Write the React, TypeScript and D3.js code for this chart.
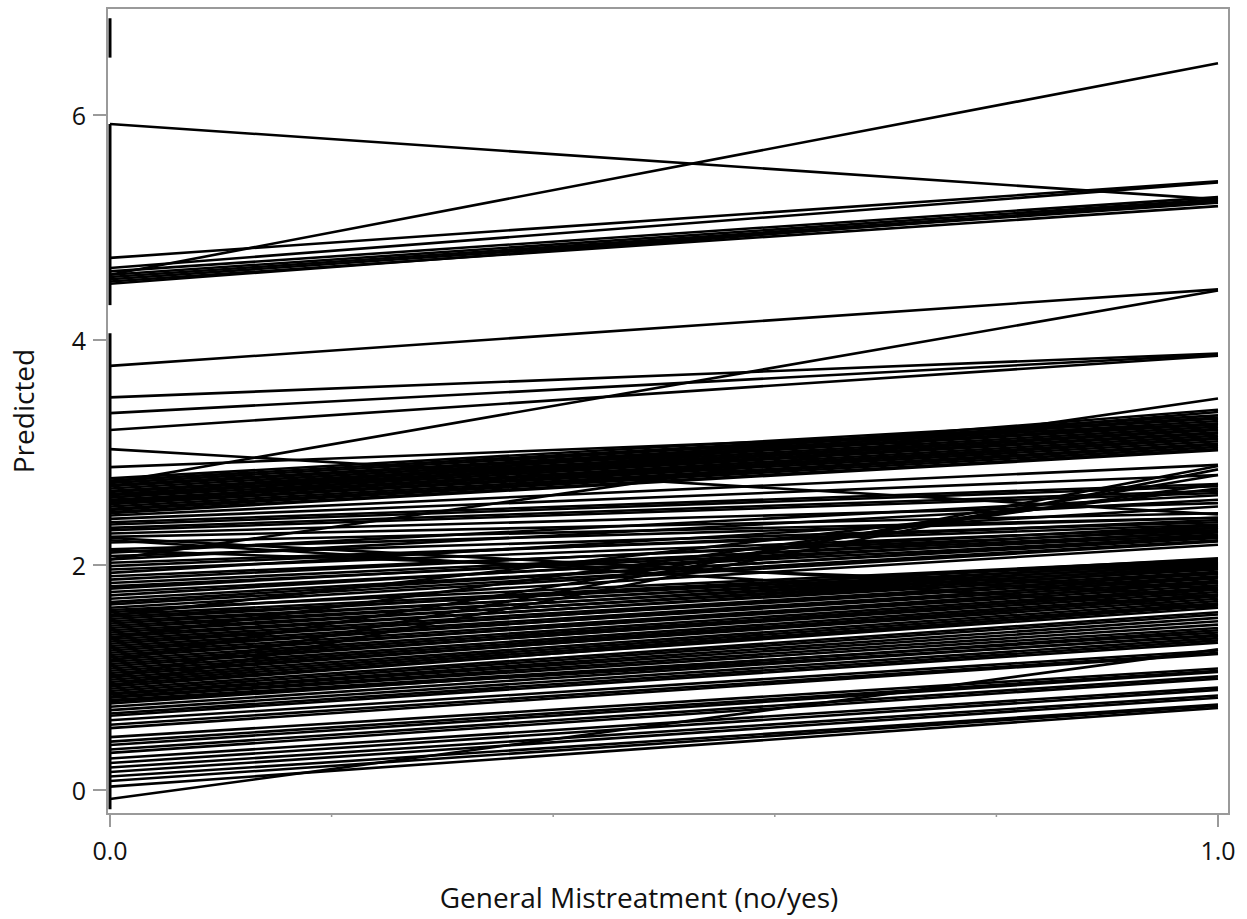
import * as d3 from 'd3';

// Predicted value for each subject at no (0) and yes (1) — [atNo, atYes]
const topGroup: [number, number][] = [
  [4.58, 6.46], [5.92, 5.25], [4.73, 5.41], [4.64, 5.40], [4.61, 5.27],
  [4.58, 5.25], [4.56, 5.23], [4.54, 5.22], [4.52, 5.19], [4.50, 5.24],
];

const upperGroup: [number, number][] = [
  [3.77, 4.45], [2.73, 4.44], [3.49, 3.88], [3.35, 3.87], [3.20, 3.86],
  [3.03, 2.45], [2.87, 3.25], [2.05, 3.48], [2.60, 3.38], [2.55, 3.36],
];

const bandGroup: [number, number][] = [
  [2.77, 3.33], [2.75, 3.31], [2.73, 3.30], [2.71, 3.28], [2.70, 3.26],
  [2.68, 3.25], [2.66, 3.23], [2.65, 3.21], [2.63, 3.20], [2.62, 3.18],
  [2.60, 3.17], [2.58, 3.15], [2.57, 3.13], [2.55, 3.12], [2.54, 3.10],
  [2.52, 3.08], [2.50, 3.07], [2.49, 3.05], [2.47, 3.03], [2.46, 3.02],
];

const crossGroup: [number, number][] = [
  [2.44, 2.89], [2.41, 2.80], [2.38, 2.72], [2.36, 2.70], [2.33, 2.66],
  [2.31, 2.64], [2.28, 2.55], [2.25, 2.46], [2.24, 1.72], [2.22, 1.62],
  [2.13, 1.80], [2.20, 2.42], [1.00, 2.88], [0.92, 2.85], [1.15, 2.80],
  [1.35, 2.72], [1.55, 2.68],
];

const denseGroup: [number, number][] = [
  [2.14, 2.42], [2.11, 2.62], [2.08, 2.38], [2.05, 2.58], [2.02, 2.36],
  [1.99, 2.40], [1.96, 2.33], [1.93, 2.52], [1.90, 2.31], [1.87, 2.35],
  [1.84, 2.29], [1.81, 2.27], [1.79, 2.33], [1.76, 2.25], [1.73, 2.30],
  [1.70, 2.24], [1.67, 2.26], [1.65, 2.22], [1.62, 2.21], [1.60, 2.05],
  [1.58, 2.18], [1.56, 2.04], [1.54, 2.02], [1.52, 2.06], [1.50, 2.00],
  [1.48, 2.03], [1.46, 1.98], [1.44, 2.01], [1.42, 1.96], [1.40, 1.99],
  [1.38, 1.94], [1.36, 1.97], [1.34, 1.92], [1.32, 1.90], [1.30, 1.93],
  [1.28, 1.88], [1.26, 1.86], [1.24, 1.89], [1.22, 1.84], [1.20, 1.82],
  [1.18, 1.85], [1.16, 1.80], [1.14, 1.78], [1.12, 1.76], [1.10, 1.79],
  [1.08, 1.74], [1.06, 1.72], [1.04, 1.70], [1.02, 1.73], [1.00, 1.68],
  [0.98, 1.66], [0.96, 1.64], [0.94, 1.62], [0.92, 1.65], [0.90, 1.58],
  [0.88, 1.56], [0.86, 1.53], [0.85, 1.50], [0.83, 1.47], [0.82, 1.44],
  [0.80, 1.40], [0.79, 1.37],
];

const lowerGroup: [number, number][] = [
  [0.77, 1.42], [0.74, 1.38], [0.71, 1.35], [0.68, 1.33], [0.66, 1.31],
  [0.62, 1.24], [0.58, 1.22], [0.55, 1.21], [0.47, 1.08], [0.43, 1.06],
  [0.40, 1.05], [0.36, 1.01], [0.33, 0.99], [0.28, 0.91], [0.24, 0.89],
  [0.20, 0.84], [0.16, 0.82], [0.12, 0.76], [0.08, 0.75], [0.03, 0.73],
  [-0.08, 1.25],
];

// vertical runs drawn at x = 0
const verticalAtNo: [number, number][] = [
  [6.86, 6.51], [5.92, 4.31], [4.06, -0.17],
];

const yTicks = [0, 2, 4, 6];
const xTicks = [0, 1];
const xMinorTicks = [0.2, 0.4, 0.6, 0.8];

const FONT = '"Open Sans", "Noto Sans", sans-serif';
const AXIS_GRAY = '#9a9a9a';

export default function App() {
  const x = d3.scaleLinear().domain([0, 1]).range([110, 1218]);
  const y = d3.scaleLinear().domain([0, 6]).range([790, 115]);

  const frame = { left: 107, top: 8, right: 1229, bottom: 814 };

  const subjects = [
    ...topGroup, ...upperGroup, ...bandGroup, ...crossGroup, ...denseGroup, ...lowerGroup,
  ];

  const line = d3
    .line<[number, number]>()
    .x((d) => x(d[0]))
    .y((d) => y(d[1]));

  return (
    <svg
      width={1247}
      height={919}
      style={{ position: 'absolute', left: 0, top: 0, background: '#fff' }}
      fontFamily={FONT}
    >
      {/* subject lines */}
      <g fill="none" stroke="#000" strokeWidth={2.6}>
        {subjects.map((s, i) => (
          <path key={i} d={line([[0, s[0]], [1, s[1]]]) ?? ''} />
        ))}
        {verticalAtNo.map((v, i) => (
          <path key={`v${i}`} d={line([[0, v[0]], [0, v[1]]]) ?? ''} strokeWidth={3} />
        ))}
      </g>

      {/* frame */}
      <rect
        x={frame.left}
        y={frame.top}
        width={frame.right - frame.left}
        height={frame.bottom - frame.top}
        fill="none"
        stroke={AXIS_GRAY}
        strokeWidth={2}
      />

      {/* y axis */}
      {yTicks.map((t) => (
        <g key={t}>
          <line x1={93} x2={frame.left} y1={y(t)} y2={y(t)} stroke={AXIS_GRAY} strokeWidth={2} />
          <text x={86} y={y(t)} textAnchor="end" dominantBaseline="central" fontSize={25} fill="#111">
            {t}
          </text>
        </g>
      ))}

      {/* x axis */}
      {xTicks.map((t) => (
        <g key={t}>
          <line x1={x(t)} x2={x(t)} y1={frame.bottom} y2={frame.bottom + 13} stroke={AXIS_GRAY} strokeWidth={2} />
          <text x={x(t)} y={860} textAnchor="middle" fontSize={25} fill="#111">
            {d3.format('.1f')(t)}
          </text>
        </g>
      ))}
      {xMinorTicks.map((t) => (
        <line key={t} x1={x(t)} x2={x(t)} y1={frame.bottom} y2={frame.bottom + 3} stroke={AXIS_GRAY} strokeWidth={1.5} />
      ))}

      <text
        transform="translate(34,411) rotate(-90)"
        textAnchor="middle"
        fontSize={28}
        fill="#111"
      >
        Predicted
      </text>
      <text x={639} y={908} textAnchor="middle" fontSize={28} fill="#111">
        General Mistreatment (no/yes)
      </text>
    </svg>
  );
}
